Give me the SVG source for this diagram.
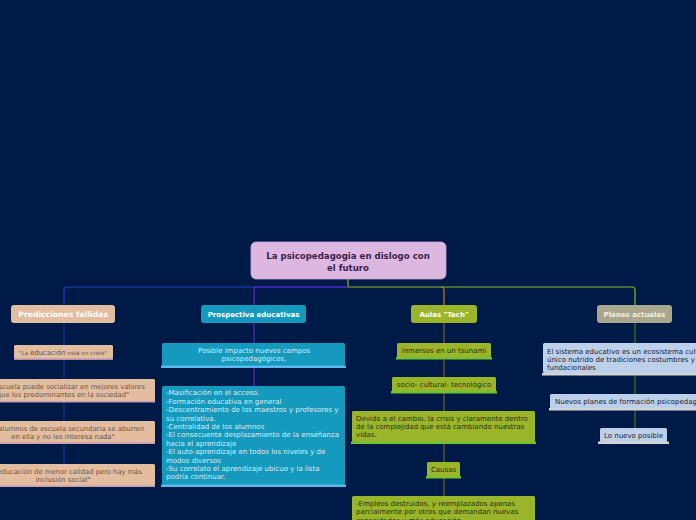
<svg xmlns="http://www.w3.org/2000/svg" width="696" height="520" viewBox="0 0 696 520">
<style>
text{font-family:"DejaVu Sans","Liberation Sans",sans-serif;}
.t{font-size:7px;}
.p{font-size:6.8px;}
.h{font-weight:bold;fill:#ffffff;font-size:7px;text-anchor:middle;}
.c{text-anchor:middle;}
.peach{fill:#e2bd9f;}
.pt{fill:#6b5646;}
.teal{fill:#1599bd;}
.tt{fill:#d9eef8;}
.olive{fill:#9bb52b;}
.ot{fill:#28300c;}
.lb{fill:#bdd0ea;}
.lt{fill:#1b2232;}
</style>
<rect width="696" height="520" fill="#001a47"/>
<g id="connectors" fill="none" stroke-width="1.2">
<path d="M348,279 V287" stroke="#8ab622"/>
<path d="M348,287 H67 Q64,287 64,290 V305" stroke="#1a3ec2"/>
<path d="M348,287 H257 Q254,287 254,290 V305" stroke="#6a1ed8"/>
<path d="M441,287 Q444,287 444,290 V305" stroke="#c07a22"/>
<path d="M348,287 H632 Q635,287 635,290 V305" stroke="#8ab622"/>
<path d="M64,323 V465" stroke="#0e3a9c"/>
<path d="M254,322 V386" stroke="#6a1ed8"/>
<path d="M444,322 V497" stroke="#7a5a3a"/>
<path d="M635,322 V428" stroke="#3a7a2a"/>
</g>
<g id="central">
<rect x="251" y="242" width="195" height="37" rx="5" fill="#dcb8e1" stroke="#c9a4d2" stroke-width="0.8"/>
<text x="348" y="259" class="c" font-size="8.6" font-weight="bold" fill="#3b1f4b">La psicopedagogia en dislogo con</text>
<text x="348" y="271" class="c" font-size="8.6" font-weight="bold" fill="#3b1f4b">el futuro</text>
</g>
<g id="predicciones">
<rect x="11" y="305" width="104" height="18" rx="3" class="peach"/>
<text x="63" y="317" class="h" style="font-size:7.7px">Predicciones fallidas</text>
</g>
<g id="pred1">
<rect x="14" y="345" width="99" height="14" rx="1.5" class="peach"/>
<rect x="14" y="358.5" width="99" height="1.5" fill="#b98fa6"/>
<text x="63" y="354.5" class="c pt" font-size="5.6">"La <tspan font-size="7">educación</tspan> está en crisis"</text>
</g>
<g id="pred2">
<rect x="-30" y="379" width="185" height="23" rx="1.5" class="peach"/>
<rect x="-30" y="401" width="185" height="1.5" fill="#c79cb4"/>
<text x="63" y="389" class="c p pt">"La escuela puede socializar en mejores valores</text>
<text x="63" y="397" class="c p pt">que los predominantes en la sociedad"</text>
</g>
<g id="pred3">
<rect x="-30" y="421" width="185" height="22" rx="1.5" class="peach"/>
<rect x="-30" y="442.5" width="185" height="1.5" fill="#c79cb4"/>
<text x="63" y="430.5" class="c p pt">"Los alumnos de escuela secundaria se aburren</text>
<text x="63" y="438.5" class="c p pt">en ella y no les interesa nada"</text>
</g>
<g id="pred4">
<rect x="-30" y="464" width="185" height="22" rx="1.5" class="peach"/>
<rect x="-30" y="485.5" width="185" height="1.5" fill="#c79cb4"/>
<text x="63" y="473.5" class="c p pt">"La educación de menor calidad pero hay más</text>
<text x="63" y="481.5" class="c p pt">inclusión social"</text>
</g>
<g id="prospectiva">
<rect x="201" y="305" width="105" height="18" rx="3" class="teal"/>
<text x="253.5" y="316.5" class="h">Prospectiva educativas</text>
</g>
<g id="prosp1">
<rect x="162" y="343" width="183" height="23" rx="1.5" class="teal"/>
<rect x="161" y="365.5" width="185" height="2.5" fill="#5ab9ea"/>
<text x="254" y="353" class="c t tt">Posible impacto nuevos campos</text>
<text x="254" y="361.3" class="c t tt">psicopedagógicos,</text>
</g>
<g id="prosp2">
<rect x="162" y="386" width="183" height="99" rx="1.5" class="teal"/>
<rect x="161" y="484.5" width="185" height="2.5" fill="#5ab9ea"/>
<text class="t tt">
<tspan x="166" y="395.3">-Masificación en el acceso.</tspan>
<tspan x="166" y="403.7">-Formación educativa en general</tspan>
<tspan x="166" y="412.1">-Descentramiento de los maestros y profesores y</tspan>
<tspan x="166" y="420.5">su correlativa.</tspan>
<tspan x="166" y="428.9">-Centralidad de los alumnos</tspan>
<tspan x="166" y="437.3">-El consecuente desplazamiento de la enseñanza</tspan>
<tspan x="166" y="445.7">hacia el aprendizaje</tspan>
<tspan x="166" y="454.1">-El auto-aprendizaje en todos los niveles y de</tspan>
<tspan x="166" y="462.5">modos diversos</tspan>
<tspan x="166" y="470.9">-Su correlato el aprendizaje ubicuo y la lista</tspan>
<tspan x="166" y="479.3">podría continuar.</tspan>
</text>
</g>
<g id="aulas">
<rect x="411" y="305" width="66" height="18" rx="3" class="olive"/>
<text x="444" y="316.5" class="h">Aulas "Tech"</text>
</g>
<g id="aulas1">
<rect x="397" y="343" width="94" height="15" rx="1.5" class="olive"/>
<rect x="396" y="357" width="96" height="2.5" fill="#6fc232"/>
<text x="444" y="353" class="c t ot">inmersos en un tsunami</text>
</g>
<g id="aulas2">
<rect x="392" y="377" width="104" height="15" rx="1.5" class="olive"/>
<rect x="391" y="391" width="106" height="2.5" fill="#6fc232"/>
<text x="444" y="387" class="c t ot">socio- cultural- tecnológico</text>
</g>
<g id="aulas3">
<rect x="352" y="411" width="183" height="31" rx="1.5" class="olive"/>
<rect x="351" y="441.5" width="185" height="2.5" fill="#6fc232"/>
<text x="356" y="420.7" class="t ot">Devido a el cambio, la crisis y claramente dentro</text>
<text x="356" y="429" class="t ot">de la complejidad que está cambiando nuestras</text>
<text x="356" y="437.3" class="t ot">vidas.</text>
</g>
<g id="causas">
<rect x="427" y="462" width="33" height="14.5" rx="1.5" class="olive"/>
<rect x="426" y="476" width="35" height="2.5" fill="#6fc232"/>
<text x="443.5" y="472" class="c t ot">Causas</text>
</g>
<g id="aulas4">
<rect x="352" y="496" width="183" height="30" rx="1.5" class="olive"/>
<text x="356" y="506" class="t ot">-Empleos destruidos, y reemplazados apenas</text>
<text x="356" y="514.3" class="t ot">parcialmente por otros que demandan nuevas</text>
<text x="356" y="522.6" class="t ot">capacidades y más educación.</text>
</g>
<g id="planes">
<rect x="597" y="305" width="75" height="18" rx="3" fill="#aba78e"/>
<text x="634.5" y="316.5" class="h" style="fill:#f0efe2">Planes actuales</text>
</g>
<g id="planes1">
<rect x="543" y="343" width="160" height="30" rx="1.5" class="lb"/>
<rect x="542" y="373" width="160" height="2.5" fill="#d4d4d4"/>
<text x="547" y="353.5" class="t lt">El sistema educativo es un ecosistema cultural</text>
<text x="547" y="361.8" class="t lt">único nutrido de tradiciones costumbres y</text>
<text x="547" y="370.1" class="t lt">fundacionales</text>
</g>
<g id="planes2">
<rect x="550" y="394" width="160" height="14.5" rx="1.5" class="lb"/>
<rect x="549" y="408" width="160" height="2.5" fill="#d4d4d4"/>
<text x="555" y="404" class="t lt">Nuevos planes de formación psicopedagógica</text>
</g>
<g id="planes3">
<rect x="600" y="428" width="67" height="14" rx="1.5" class="lb"/>
<rect x="598" y="441.5" width="71" height="2.5" fill="#d4d4d4"/>
<text x="633.5" y="438" class="c t lt">Lo nuevo posible</text>
</g>
</svg>
